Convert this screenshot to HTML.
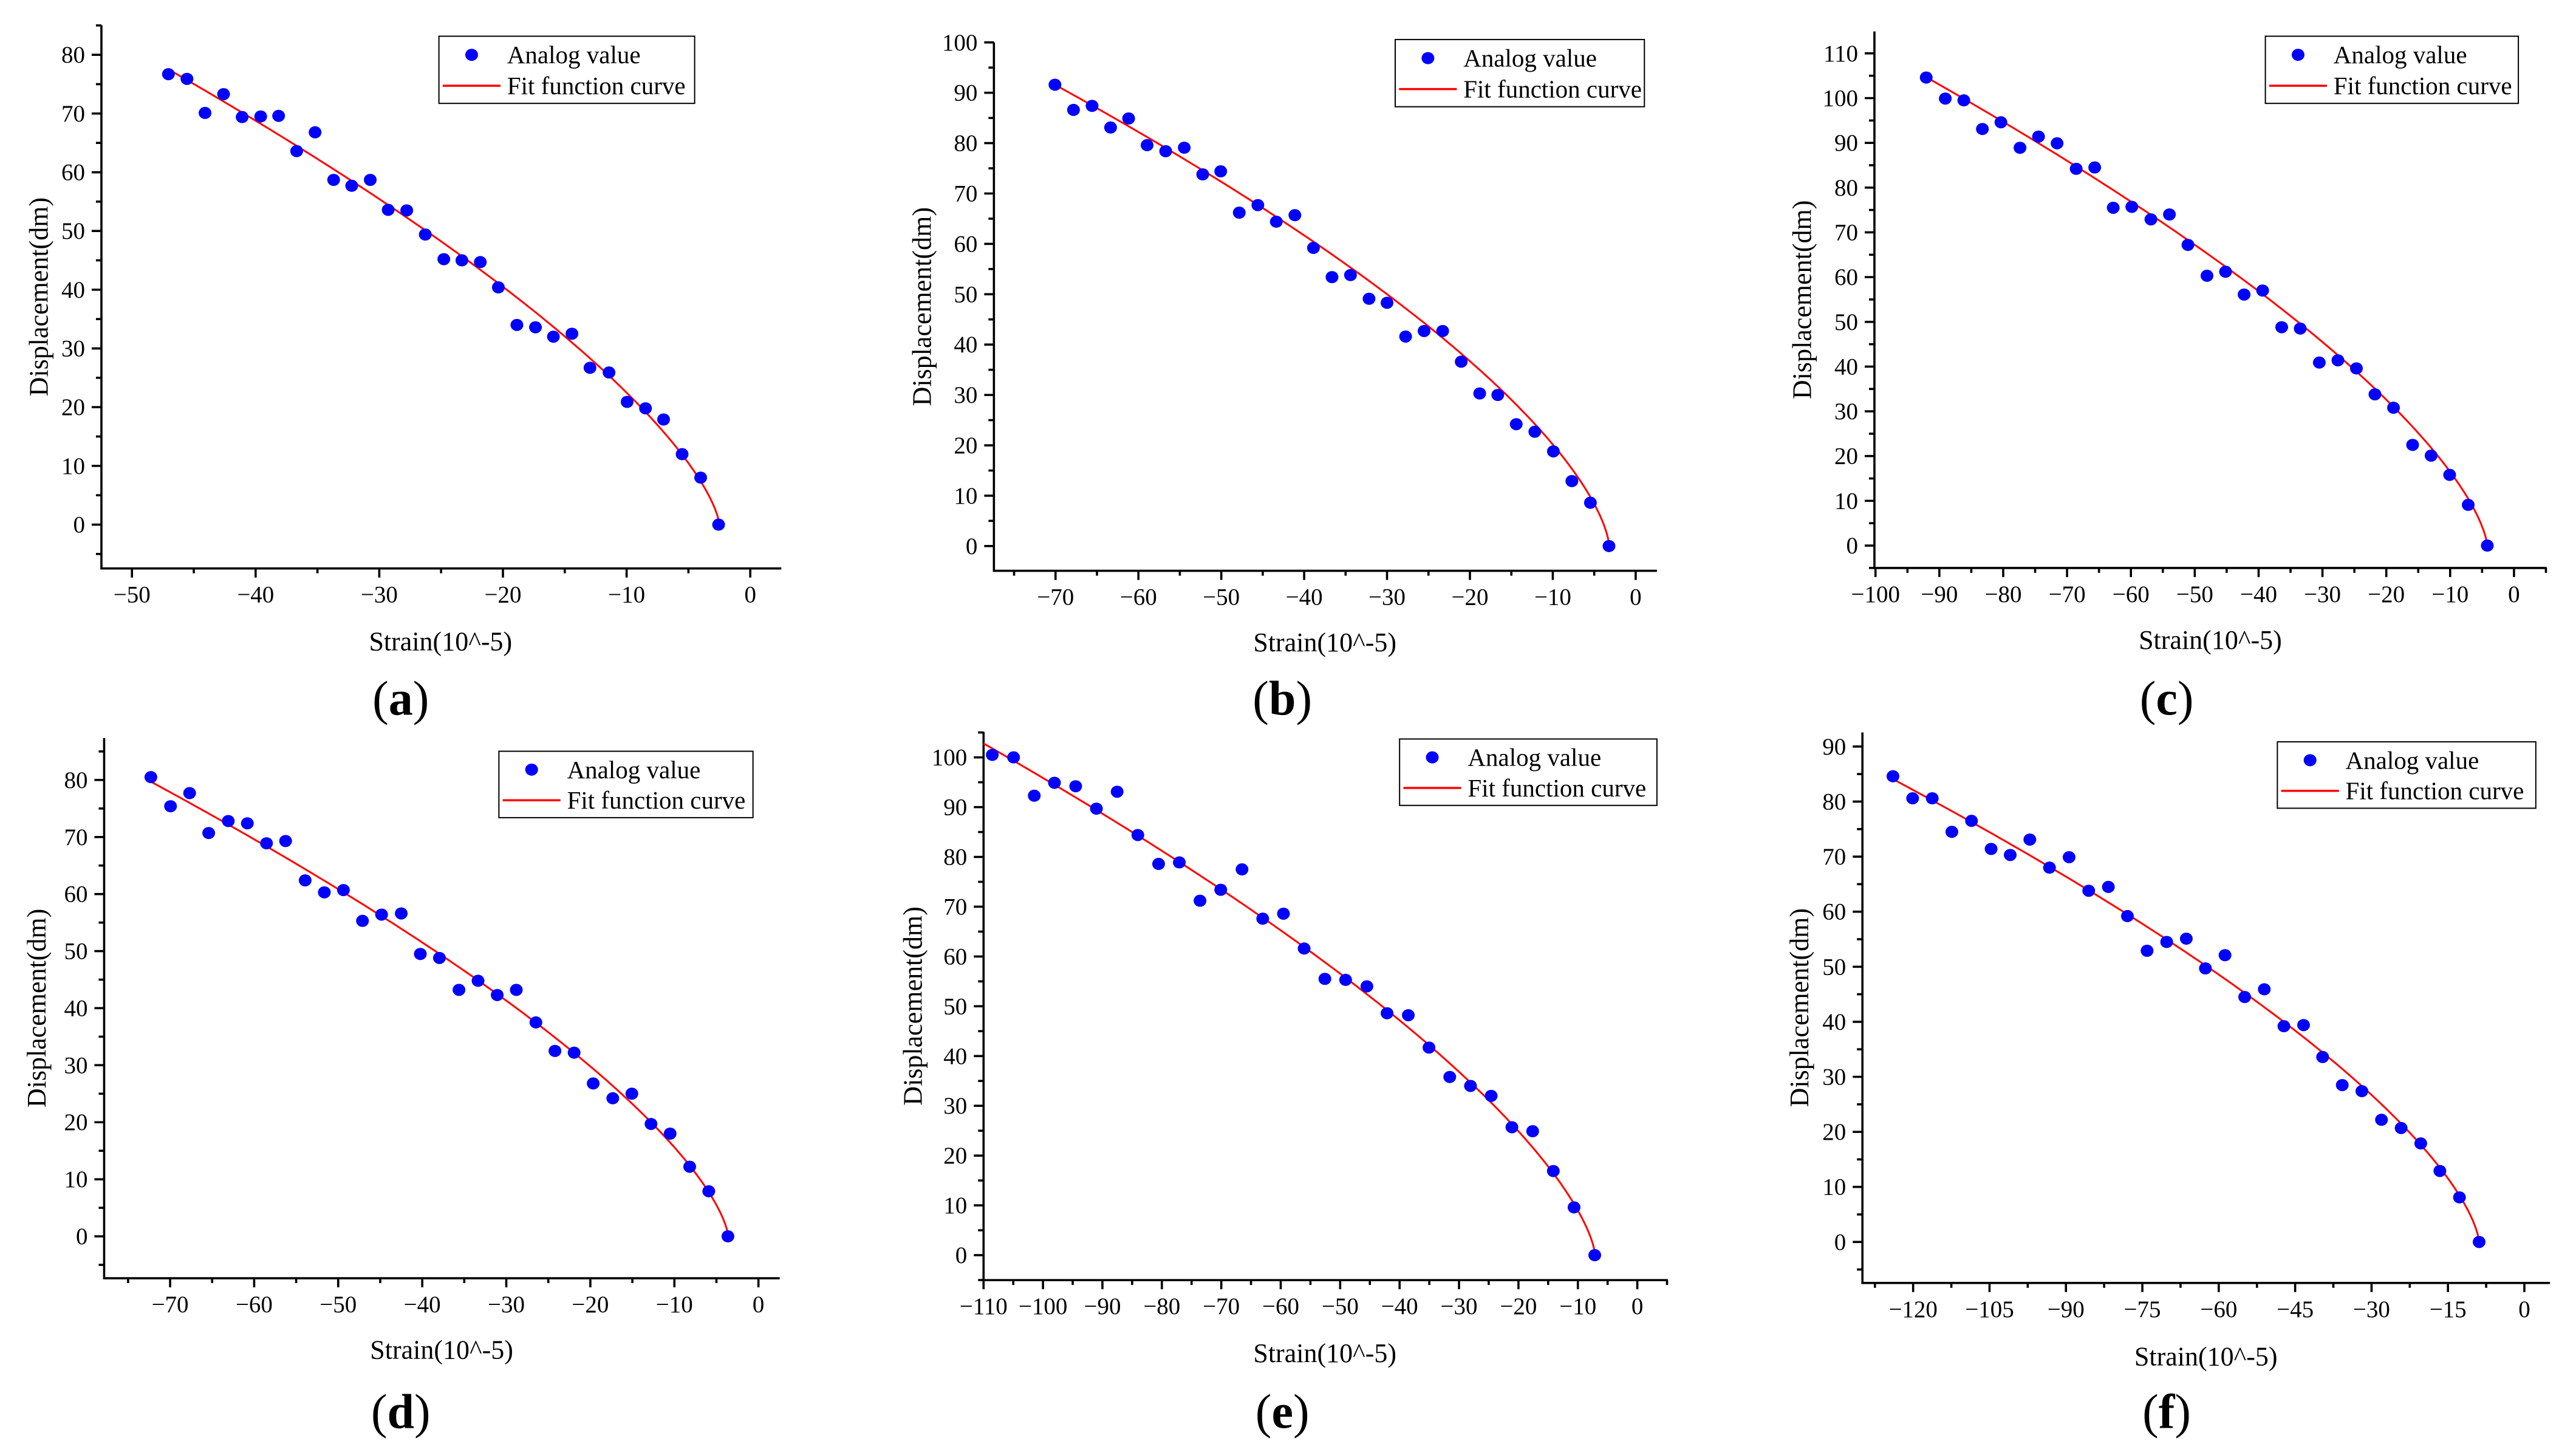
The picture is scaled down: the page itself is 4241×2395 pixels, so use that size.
<!DOCTYPE html>
<html><head><meta charset="utf-8"><style>
html,body{margin:0;padding:0;background:#fff;}
svg{display:block;font-family:"Liberation Serif",serif;}
</style></head><body>
<svg id="fig" width="4241" height="2395" viewBox="0 0 4241 2395" xmlns="http://www.w3.org/2000/svg"></svg>
<script>
// ---- data ----
const aX=[-47.05,-45.55,-44.09,-42.59,-41.09,-39.59,-38.14,-35.19,-36.68,-33.69,-32.23,-30.73,-29.28,-27.78,-26.28,-24.78,-23.32,-21.83,-20.37,-18.87,-17.37,-15.92,-14.42,-12.96,-11.42,-9.96,-8.47,-7.01,-5.51,-4.01,-2.56];
const aY=[76.7,75.9,70.1,73.3,69.4,69.5,69.6,66.8,63.6,58.7,57.7,58.7,53.6,53.5,49.4,45.2,45.0,44.7,40.4,34.0,33.6,32.0,32.5,26.7,25.9,20.9,19.8,17.9,12.0,8.0,0];
const bX=[-70.07,-67.83,-65.59,-63.36,-61.18,-58.95,-56.71,-54.47,-52.24,-50.07,-47.83,-45.59,-43.36,-41.12,-38.88,-36.64,-34.41,-32.17,-30.0,-27.76,-25.53,-23.29,-21.05,-18.82,-16.64,-14.41,-12.17,-9.93,-7.70,-5.46,-3.22];
const bY=[91.6,86.6,87.4,83.1,84.9,79.6,78.4,79.1,73.8,74.4,66.2,67.7,64.4,65.7,59.2,53.4,53.8,49.1,48.3,41.6,42.7,42.7,36.6,30.3,30.0,24.2,22.7,18.8,12.9,8.6,0];
const cX=[-92.06,-89.07,-86.17,-83.26,-80.36,-77.37,-74.47,-71.56,-68.57,-65.67,-62.77,-59.86,-56.87,-53.97,-51.07,-48.08,-45.18,-42.27,-39.37,-36.38,-33.48,-30.49,-27.58,-24.68,-21.78,-18.87,-15.88,-12.98,-10.08,-7.17,-4.18];
const cY=[104.6,99.9,99.5,93.1,94.6,88.9,91.4,89.9,84.2,84.5,75.5,75.7,72.9,74.0,67.2,60.3,61.2,56.1,57.0,48.8,48.5,40.9,41.4,39.6,33.8,30.8,22.5,20.1,15.8,9.1,0];
const dX=[-72.29,-69.95,-67.68,-65.41,-63.08,-60.81,-58.53,-56.26,-53.93,-51.65,-49.38,-47.11,-44.84,-42.5,-40.23,-37.96,-35.63,-33.36,-31.08,-28.81,-26.48,-24.21,-21.93,-19.66,-17.33,-15.06,-12.78,-10.51,-8.18,-5.91,-3.63];
const dY=[80.5,75.4,77.7,70.7,72.8,72.4,68.9,69.3,62.4,60.3,60.7,55.3,56.4,56.6,49.5,48.8,43.2,44.8,42.3,43.2,37.5,32.5,32.2,26.8,24.2,25.0,19.7,18.0,12.2,7.9,0];
const eX=[-108.53,-104.95,-101.47,-98.07,-94.5,-91.01,-87.52,-84.04,-80.55,-77.06,-73.58,-70.09,-66.51,-63.03,-59.54,-56.06,-52.57,-49.08,-45.5,-42.11,-38.53,-35.05,-31.56,-28.07,-24.59,-21.1,-17.61,-14.13,-10.64,-7.16];
const eY=[100.5,100.0,92.3,94.9,94.2,89.7,93.1,84.4,78.6,78.9,71.2,73.4,77.5,67.6,68.6,61.6,55.5,55.3,54.0,48.6,48.2,41.7,35.8,34.0,32.0,25.7,24.9,16.9,9.6,0];
const fX=[-123.96,-120.1,-116.25,-112.4,-108.54,-104.69,-100.94,-97.09,-93.23,-89.38,-85.53,-81.67,-77.93,-74.07,-70.22,-66.37,-62.62,-58.77,-54.91,-51.06,-47.21,-43.35,-39.61,-35.75,-31.9,-28.05,-24.19,-20.34,-16.59,-12.74,-8.88];
const fY=[84.6,80.6,80.6,74.5,76.5,71.4,70.3,73.1,68.0,69.9,63.8,64.5,59.2,52.9,54.5,55.1,49.7,52.1,44.5,45.9,39.2,39.4,33.6,28.5,27.4,22.2,20.7,17.9,12.9,8.1,0];
// fit parameters y = A*(x0-x)^B, from xStart to x0
const fitA=[5.54,5.67,4.99,4.36,4.34,3.40];
const fitB=[0.695,0.662,0.68,0.687,0.683,0.676];
const fitX0=[-2.5,-3.2,-4.2,-3.6,-7.1,-8.9];
const fitXStart=[-47,-70,-92,-72.3,-110,-124];
const xTicksA=[-50,-40,-30,-20,-10,0], yTicksA=[0,10,20,30,40,50,60,70,80];
const xTicksB=[-70,-60,-50,-40,-30,-20,-10,0], yTicksB=[0,10,20,30,40,50,60,70,80,90,100];
const xTicksC=[-100,-90,-80,-70,-60,-50,-40,-30,-20,-10,0], yTicksC=[0,10,20,30,40,50,60,70,80,90,100,110];
const xTicksD=[-70,-60,-50,-40,-30,-20,-10,0], yTicksD=[0,10,20,30,40,50,60,70,80];
const xTicksE=[-110,-100,-90,-80,-70,-60,-50,-40,-30,-20,-10,0], yTicksE=[0,10,20,30,40,50,60,70,80,90,100];
const xTicksF=[-120,-105,-90,-75,-60,-45,-30,-15,0], yTicksF=[0,10,20,30,40,50,60,70,80,90];
const labels=['a','b','c','d','e','f'];

// ---- layout (measured in zoom space; kx/ky convert to page pixels) ----
const KX=1.114, KY1=1.275, KY2=1.29;
const panels=[
 {id:'a',ox:0,oy:0,ky:KY1,X:aX,Y:aY,xt:xTicksA,yt:yTicksA,L:186,T:53,R:1433,B:1193,xc:[-50,242,0,1376],yc:[80,115,0,1101],leg:[805,76,469],yl:72,xtc:808,xtb:1365,lc:735,lb:1500},
 {id:'b',ox:1420,oy:0,ky:KY1,X:bX,Y:bY,xt:xTicksB,yt:yTicksB,L:241,T:89,R:1457,B:1198,xc:[-70,354,0,1418],yc:[100,89,0,1146],leg:[977,83,457],yl:110,xtc:848,xtb:1367,lc:770,lb:1500},
 {id:'c',ox:2840,oy:0,ky:KY1,X:cX,Y:cY,xt:xTicksC,yt:yTicksC,L:274,T:66,R:1507,B:1192,xc:[-100,276,0,1447],yc:[110,112,0,1145],leg:[991,76,464],yl:142,xtc:890,xtb:1362,lc:810,lb:1500},
 {id:'d',ox:0,oy:1180,ky:KY2,X:dX,Y:dY,xt:xTicksD,yt:yTicksD,L:191,T:45,R:1430,B:1192,xc:[-70,312,0,1391],yc:[80,134,0,1103],leg:[915,73,466],yl:68,xtc:810,xtb:1363,lc:735,lb:1510},
 {id:'e',ox:1420,oy:1180,ky:KY2,X:eX,Y:eY,xt:xTicksE,yt:yTicksE,L:222,T:32,R:1477,B:1196,xc:[-110,222,0,1421],yc:[100,86,0,1143],leg:[985,47,472],yl:93,xtc:848,xtb:1370,lc:770,lb:1510},
 {id:'f',ox:2840,oy:1180,ky:KY2,X:fX,Y:fY,xt:xTicksF,yt:yTicksF,L:252,T:33,R:1513,B:1202,xc:[-120,345,0,1466],yc:[90,63,0,1115],leg:[1013,53,474],yl:137,xtc:882,xtb:1377,lc:810,lb:1510}
];
const NS='http://www.w3.org/2000/svg';
const svg=document.getElementById('fig');
function mk(tag,attrs,parent){const e=document.createElementNS(NS,tag);for(const k in attrs)e.setAttribute(k,attrs[k]);parent.appendChild(e);return e;}
function fmt(v){return v<0?'\u2212'+Math.abs(v):String(v);}

panels.forEach((p,i)=>{
  const g=mk('g',{},svg);
  
  
  const PX=z=>p.ox+z/KX, PY=z=>p.oy+z/p.ky;
  const sxz=v=>p.xc[1]+(v-p.xc[0])*(p.xc[3]-p.xc[1])/(p.xc[2]-p.xc[0]);
  const syz=v=>p.yc[1]+(v-p.yc[0])*(p.yc[3]-p.yc[1])/(p.yc[2]-p.yc[0]);
  const sx=v=>PX(sxz(v)), sy=v=>PY(syz(v));
  const inv=(z,c)=>c[0]+(z-c[1])*(c[2]-c[0])/(c[3]-c[1]);
  const L=PX(p.L),R=PX(p.R),T=PY(p.T),B=PY(p.B);
  const ax=mk('path',{d:`M${L},${T} L${L},${B} L${R},${B}`,fill:'none',stroke:'#000','stroke-width':3.6},g);
  
  
  // x ticks
  const xs=p.xt[1]-p.xt[0];
  const xmin=inv(p.L,p.xc), xmax=inv(p.R,p.xc);
  for(let v=p.xt[0]-xs;v<=xmax+1e-6;v+=xs/2){
    if(v<xmin-1e-6)continue;
    const major=p.xt.some(t=>Math.abs(t-v)<1e-6);
    mk('line',{x1:sx(v),x2:sx(v),y1:B,y2:B+(major?15:8),stroke:'#000','stroke-width':3.6},g);
  }
  p.xt.forEach(v=>{
    const t=mk('text',{x:sx(v),y:B+56,'text-anchor':'middle','font-size':39},g);
    t.textContent=fmt(v);
    
    
  });
  // y ticks
  const ys=p.yt[1]-p.yt[0];
  const ymin=inv(p.B,p.yc), ymax=inv(p.T,p.yc);
  for(let v=-ys;v<=ymax+1e-6;v+=ys/2){
    if(v<ymin-1e-6)continue;
    const major=p.yt.some(t=>Math.abs(t-v)<1e-6);
    mk('line',{x1:L,x2:L-(major?16:9),y1:sy(v),y2:sy(v),stroke:'#000','stroke-width':3.6},g);
  }
  p.yt.forEach(v=>{
    const t=mk('text',{x:L-27,y:sy(v)+13,'text-anchor':'end','font-size':39},g);
    t.textContent=fmt(v);
    
    
  });
  // titles
  const yx=PX(p.yl), ymid=PY((p.T+p.B)/2);
  const yt=mk('text',{x:yx,y:ymid,'text-anchor':'middle','font-size':44,transform:`rotate(-90 ${yx} ${ymid})`,dy:14},g);
  yt.textContent='Displacement(dm)';
  
  
  const xt=mk('text',{x:PX(p.xtc),y:PY(p.xtb),'text-anchor':'middle','font-size':44},g);
  xt.textContent='Strain(10^-5)';
  
  
  const lab=mk('text',{x:PX(p.lc),y:PY(p.lb),'text-anchor':'middle','font-size':80},g);
  lab.innerHTML='(<tspan font-weight="bold">'+labels[i]+'</tspan>)';
  
  
  // fit curve
  const A=fitA[i],Bb=fitB[i],x0=fitX0[i],xs0=fitXStart[i];
  let d='';
  const N=240;
  for(let k=0;k<=N;k++){
    const x=xs0+(x0-xs0)*(1-Math.pow(1-k/N,2));
    const u=Math.max(0,x0-x);
    const y=A*Math.pow(u,Bb);
    d+=(k?'L':'M')+sx(x).toFixed(1)+','+sy(y).toFixed(1);
  }
  const c=mk('path',{d:d,fill:'none',stroke:'#ff0000','stroke-width':3},g);
  
  
  // points
  p.X.forEach((x,j)=>{
    const e=mk('ellipse',{cx:sx(x),cy:sy(p.Y[j]),rx:10.5,ry:10,fill:'#0000ff'},g);
    
    
  });
  // legend
  const [lx,ly,lw]=p.leg;
  const lg=mk('g',{},g);
  
  
  mk('rect',{x:PX(lx),y:PY(ly),width:lw/KX,height:141/p.ky,fill:'#fff',stroke:'#000','stroke-width':2},lg);
  mk('ellipse',{cx:PX(lx+60),cy:PY(ly+39),rx:10.5,ry:10,fill:'#0000ff'},lg);
  mk('line',{x1:PX(lx+7),x2:PX(lx+113),y1:PY(ly+104),y2:PY(ly+104),stroke:'#ff0000','stroke-width':3.5},lg);
  const t1=mk('text',{x:PX(lx+125),y:PY(ly+39)+14,'font-size':41},lg);
  t1.textContent='Analog value';
  
  
  const t2=mk('text',{x:PX(lx+125),y:PY(ly+104)+14,'font-size':41},lg);
  t2.textContent='Fit function curve';
  
  
});
</script>
</body></html>
